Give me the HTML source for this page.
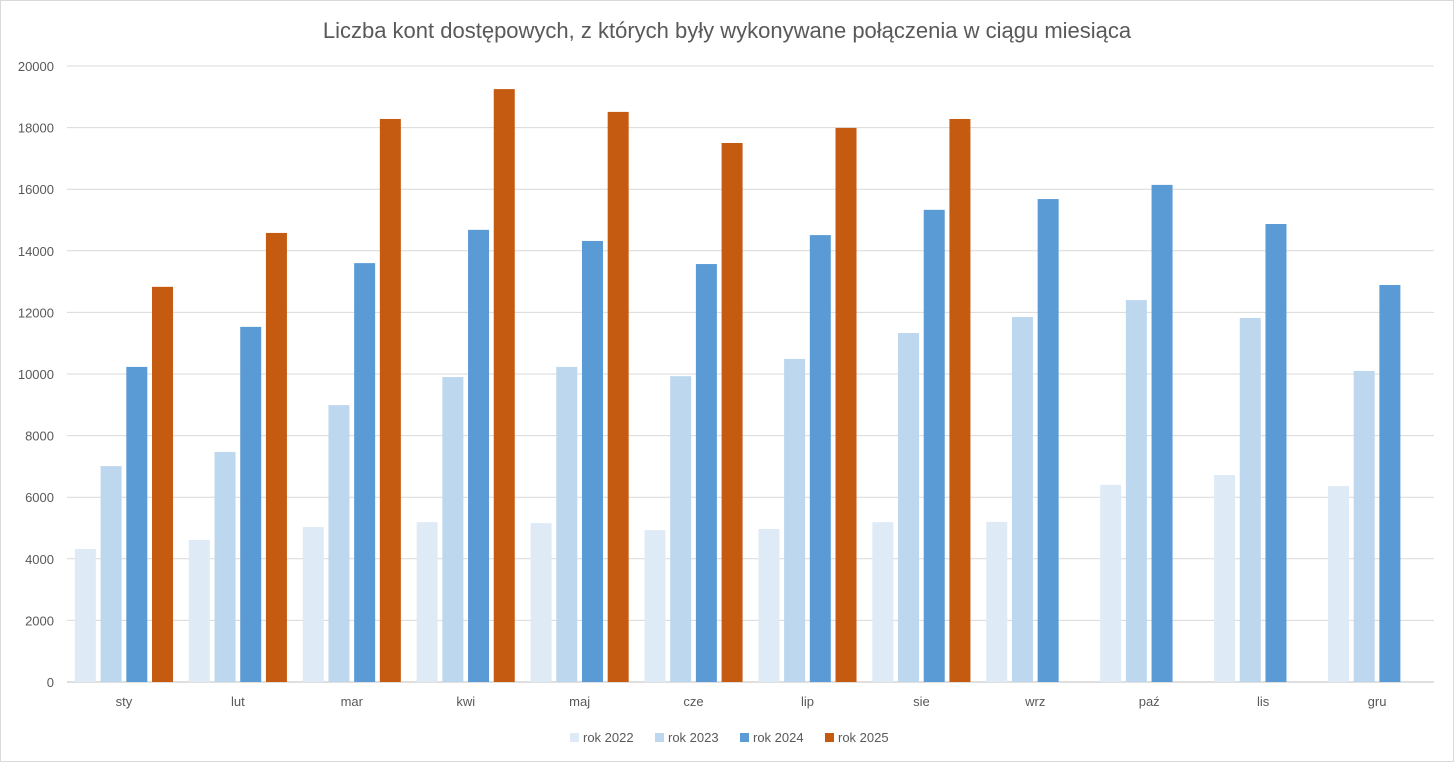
<!DOCTYPE html>
<html><head><meta charset="utf-8"><style>
body{margin:0;background:#fff;font-family:"Liberation Sans",sans-serif;}
svg text{font-family:"Liberation Sans",sans-serif;}
</style></head><body>
<svg id="chart" width="1454" height="762" viewBox="0 0 1454 762">
<rect x="0.5" y="0.5" width="1453" height="761" fill="#fff" stroke="#d9d9d9"/>
<text x="727" y="38" text-anchor="middle" font-size="22" fill="#595959">Liczba kont dostępowych, z których były wykonywane połączenia w ciągu miesiąca</text>
<g id="grid"></g><g id="bars"></g><g id="axes"></g><g id="legend"></g>
</svg>
<script>
const categories=["sty","lut","mar","kwi","maj","cze","lip","sie","wrz","paź","lis","gru"];
const s2022=[4320,4610,5030,5190,5160,4930,4970,5190,5200,6400,6720,6360];
const s2023=[7010,7470,8990,9900,10230,9930,10490,11330,11850,12400,11820,10100];
const s2024=[10230,11530,13600,14680,14320,13570,14510,15330,15680,16140,14870,12890];
const s2025=[12830,14580,18280,19250,18510,17500,17990,18280,null,null,null,null];
const seriesNames=["rok 2022","rok 2023","rok 2024","rok 2025"];
const yTicks=[0,2000,4000,6000,8000,10000,12000,14000,16000,18000,20000];
const colors=["#DEEBF7","#BDD7EE","#5B9BD5","#C55A11"];
const series=[s2022,s2023,s2024,s2025];
const NS="http://www.w3.org/2000/svg";
const L=67,R=1434,T=66,B=682,yMax=20000;
const y=v=>B-(v/yMax)*(B-T);
const bw=(R-L)/categories.length;
const x=i=>L+bw*i+bw/2;
function mk(tag,attrs,parent){const e=document.createElementNS(NS,tag);for(const k in attrs)e.setAttribute(k,attrs[k]);parent.appendChild(e);return e;}
const grid=document.getElementById('grid'),bars=document.getElementById('bars'),axes=document.getElementById('axes'),legend=document.getElementById('legend');
yTicks.forEach(t=>{
 const ln=mk('line',{x1:L,x2:R,y1:y(t),y2:y(t),stroke:t===0?'#bfbfbf':'#d9d9d9','stroke-width':1},grid);
 
 
 const tx=mk('text',{x:54,y:y(t)+5,'text-anchor':'end','font-size':13,fill:'#595959'},axes);
 tx.textContent=t;
 
 
});
const barW=21,gap=4.7;
categories.forEach((c,i)=>{
 series.forEach((s,j)=>{
  const v=s[i]; if(v==null) return;
  const bx=x(i)-2*barW-1.5*gap+j*(barW+gap);
  const r=mk('rect',{x:bx,y:y(v),width:barW,height:B-y(v),fill:colors[j]},bars);
  
  
 });
 const tx=mk('text',{x:x(i),y:706,'text-anchor':'middle','font-size':13,fill:'#595959'},axes);
 tx.textContent=c;
 
 
});
const lx=[570,655,740,825];
seriesNames.forEach((n,j)=>{
 const g=mk('g',{},legend);
 
 
 mk('rect',{x:lx[j],y:733,width:9,height:9,fill:colors[j]},g);
 const t=mk('text',{x:lx[j]+13,y:742,'font-size':13,fill:'#595959'},g);
 t.textContent=n;
});
</script>
</body></html>
